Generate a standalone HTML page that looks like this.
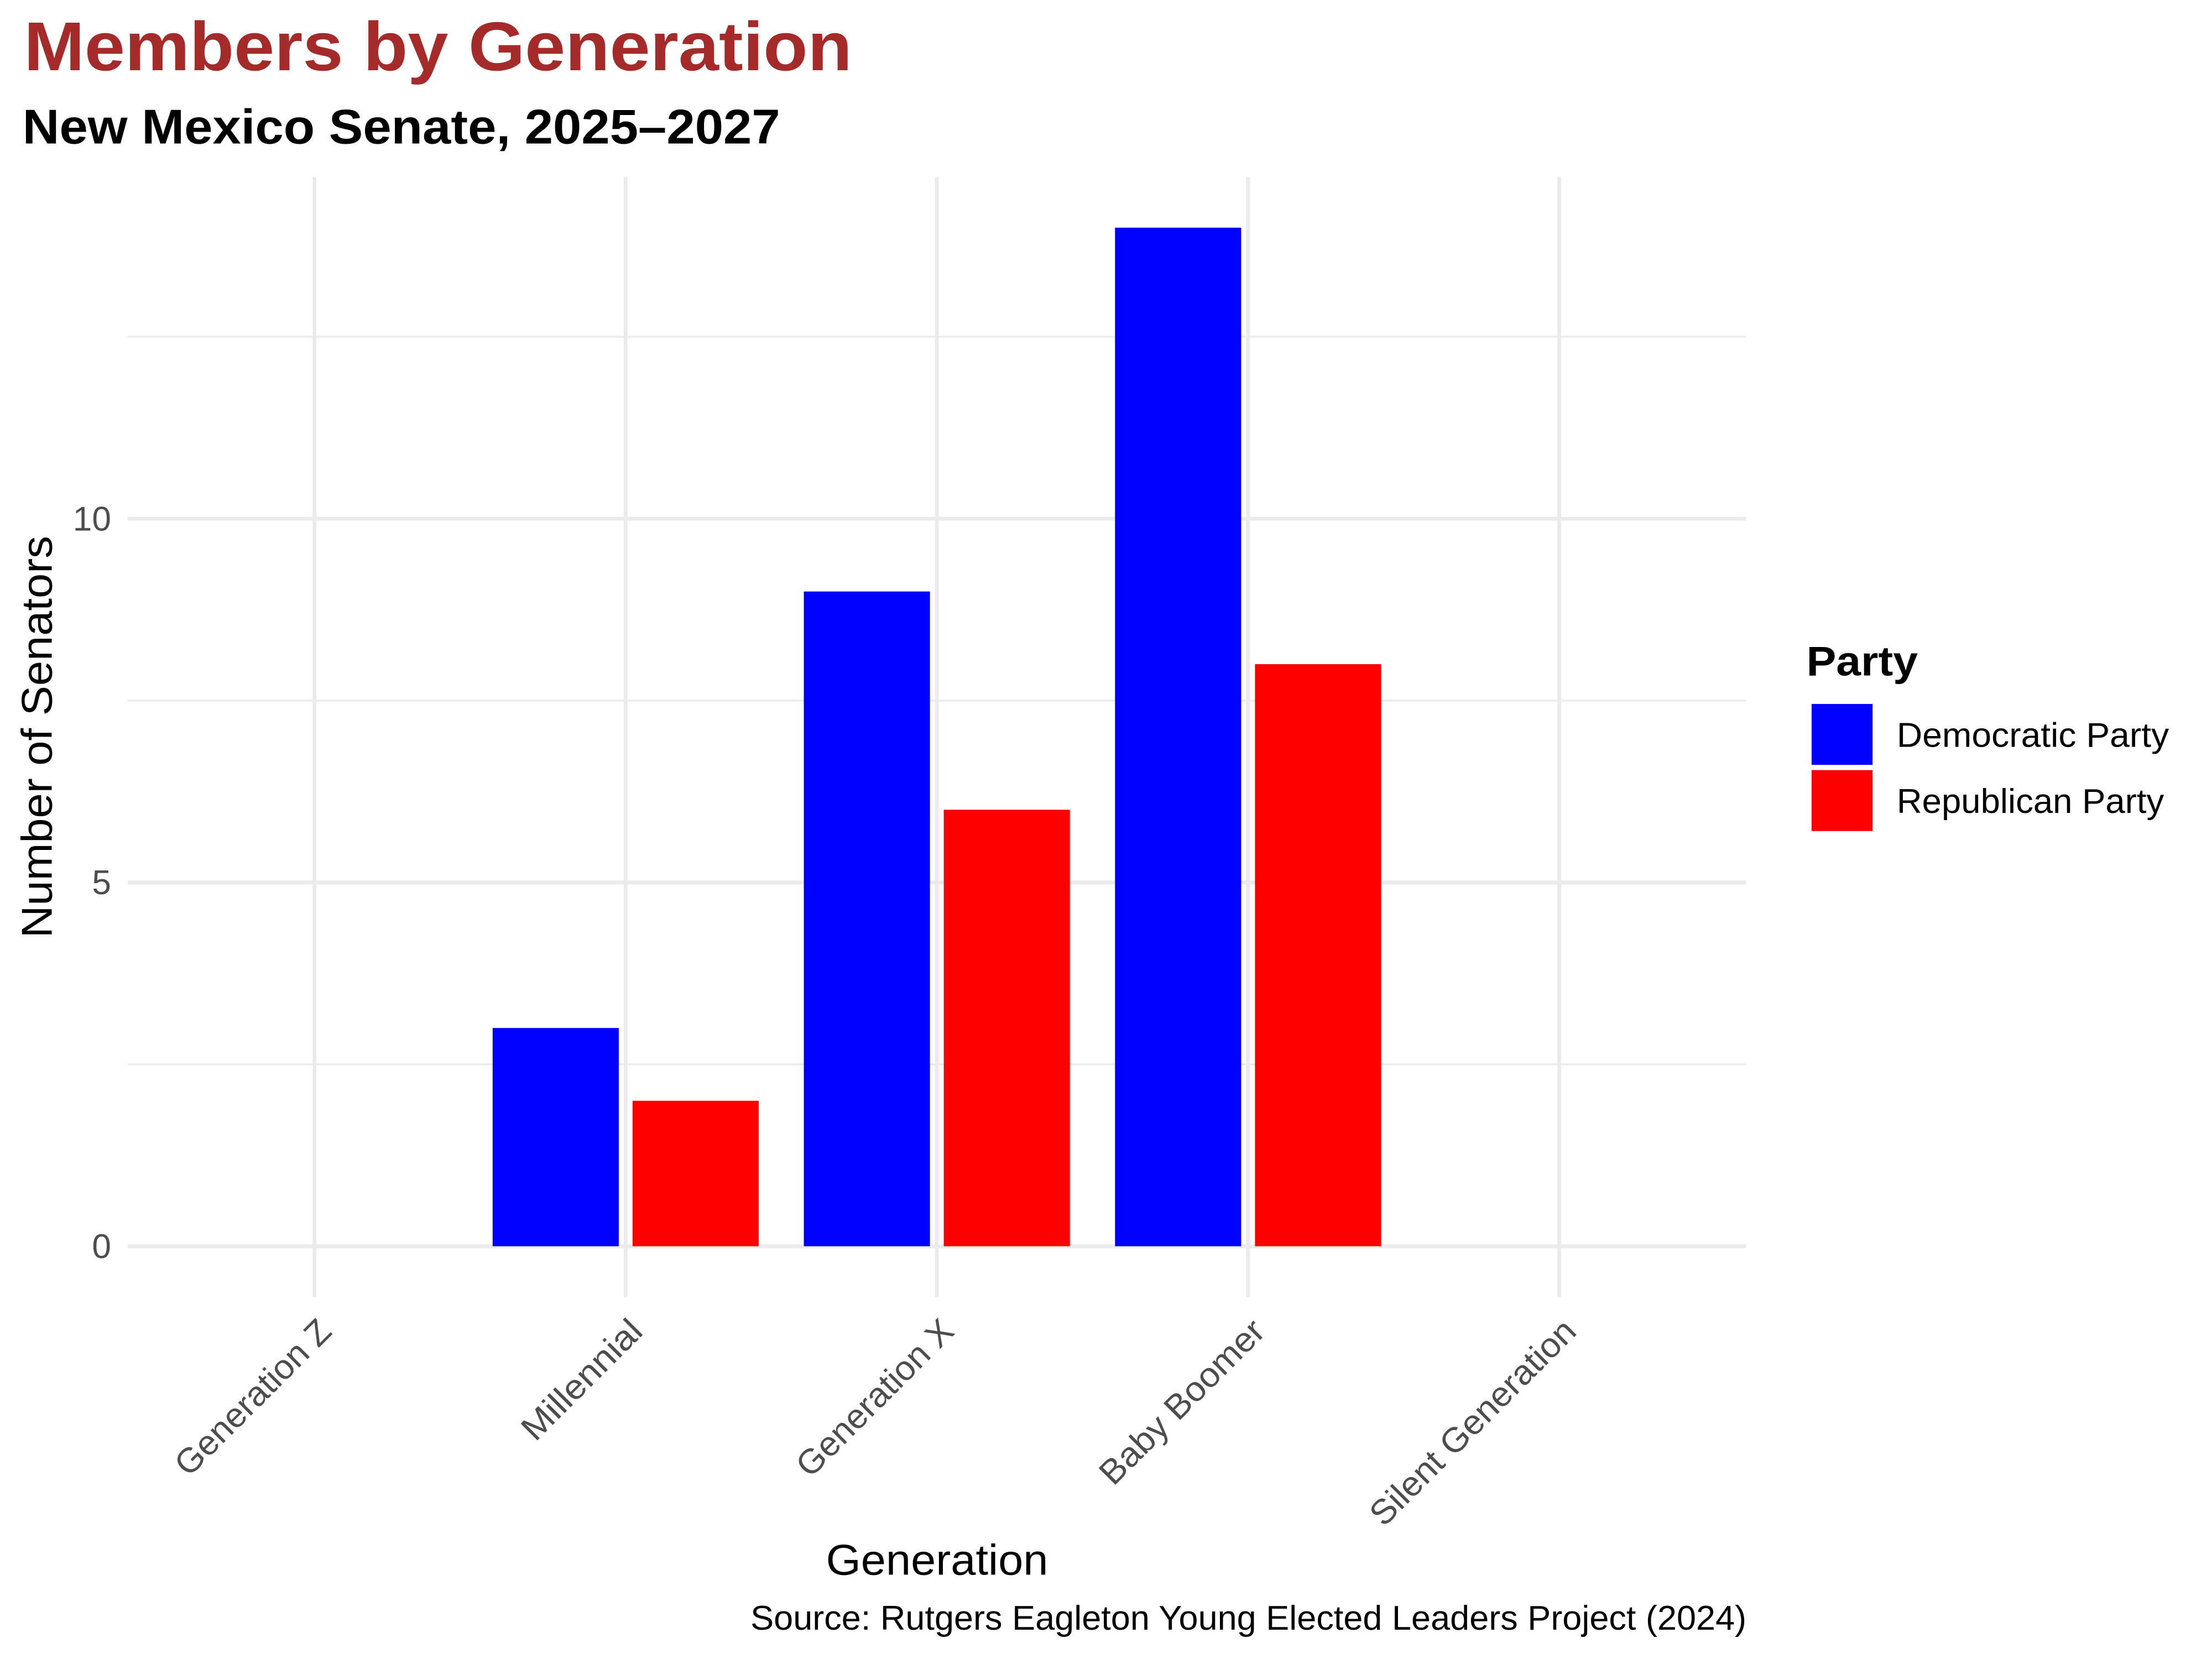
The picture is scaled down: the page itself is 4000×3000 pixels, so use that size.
<!DOCTYPE html>
<html>
<head>
<meta charset="utf-8">
<style>
  html, body { margin: 0; padding: 0; background: #ffffff; overflow: hidden; }
  svg { display: block; }
  text { font-family: "Liberation Sans", "DejaVu Sans", sans-serif; }
</style>
</head>
<body>
<svg xmlns="http://www.w3.org/2000/svg" width="4000" height="3000" viewBox="0 0 1568 1176">
  <rect x="0" y="0" width="1568" height="1176" fill="#ffffff"/>

  <!-- Titles -->
  <text x="17" y="49.8" font-size="49" font-weight="bold" fill="#A52A2A" textLength="587" lengthAdjust="spacingAndGlyphs">Members by Generation</text>
  <text x="16" y="101.7" font-size="34.7" font-weight="bold" fill="#000000" textLength="537" lengthAdjust="spacingAndGlyphs">New Mexico Senate, 2025–2027</text>

  <!-- Minor gridlines -->
  <g stroke="#EBEBEB" stroke-width="1.37" fill="none">
    <line x1="90.5" y1="754.5" x2="1237.7" y2="754.5"/>
    <line x1="90.5" y1="496.6" x2="1237.7" y2="496.6"/>
    <line x1="90.5" y1="238.8" x2="1237.7" y2="238.8"/>
  </g>
  <!-- Major gridlines -->
  <g stroke="#EBEBEB" stroke-width="2.74" fill="none">
    <line x1="90.5" y1="883.4" x2="1237.7" y2="883.4"/>
    <line x1="90.5" y1="625.55" x2="1237.7" y2="625.55"/>
    <line x1="90.5" y1="367.7" x2="1237.7" y2="367.7"/>
    <line x1="222.9" y1="125.3" x2="222.9" y2="919.5"/>
    <line x1="443.5" y1="125.3" x2="443.5" y2="919.5"/>
    <line x1="664.1" y1="125.3" x2="664.1" y2="919.5"/>
    <line x1="884.7" y1="125.3" x2="884.7" y2="919.5"/>
    <line x1="1105.3" y1="125.3" x2="1105.3" y2="919.5"/>
  </g>

  <!-- Bars -->
  <!-- Millennial -->
  <rect x="349.2" y="728.7" width="89.4" height="154.7" fill="#0000FF"/>
  <rect x="448.4" y="780.3" width="89.4" height="103.1" fill="#FF0000"/>
  <!-- Generation X -->
  <rect x="569.8" y="419.3" width="89.4" height="464.1" fill="#0000FF"/>
  <rect x="669.0" y="574.0" width="89.4" height="309.4" fill="#FF0000"/>
  <!-- Baby Boomer -->
  <rect x="790.4" y="161.4" width="89.4" height="722.0" fill="#0000FF"/>
  <rect x="889.6" y="470.8" width="89.4" height="412.6" fill="#FF0000"/>

  <!-- Y tick labels -->
  <g font-size="24.4" fill="#4D4D4D" text-anchor="end">
    <text x="78.8" y="891.8">0</text>
    <text x="78.8" y="633.9">5</text>
    <text x="78.8" y="376.1">10</text>
  </g>

  <!-- X tick labels (rotated 45) -->
  <g font-size="24.4" fill="#4D4D4D">
    <text transform="translate(236.3,945.1) rotate(-45)" x="-145" y="0" textLength="145" lengthAdjust="spacingAndGlyphs">Generation Z</text>
    <text transform="translate(456.9,945.1) rotate(-45)" x="-109.5" y="0" textLength="109.5" lengthAdjust="spacingAndGlyphs">Millennial</text>
    <text transform="translate(677.5,945.1) rotate(-45)" x="-146" y="0" textLength="146" lengthAdjust="spacingAndGlyphs">Generation X</text>
    <text transform="translate(898.1,945.1) rotate(-45)" x="-154" y="0" textLength="154" lengthAdjust="spacingAndGlyphs">Baby Boomer</text>
    <text transform="translate(1118.7,945.1) rotate(-45)" x="-195" y="0" textLength="195" lengthAdjust="spacingAndGlyphs">Silent Generation</text>
  </g>

  <!-- Axis titles -->
  <text x="585.5" y="1116.3" font-size="30.4" fill="#000000" textLength="157.5" lengthAdjust="spacingAndGlyphs">Generation</text>
  <text transform="translate(36.6,522.4) rotate(-90)" x="-142.5" y="0" font-size="30.4" fill="#000000" textLength="285" lengthAdjust="spacingAndGlyphs">Number of Senators</text>

  <!-- Caption -->
  <text x="532" y="1155.3" font-size="24.4" fill="#000000" textLength="706" lengthAdjust="spacingAndGlyphs">Source: Rutgers Eagleton Young Elected Leaders Project (2024)</text>

  <!-- Legend -->
  <text x="1280.5" y="478.9" font-size="29.6" font-weight="bold" fill="#000000" textLength="79" lengthAdjust="spacingAndGlyphs">Party</text>
  <rect x="1284.2" y="499" width="43.2" height="43.2" fill="#0000FF"/>
  <rect x="1284.2" y="545.9" width="43.2" height="43.2" fill="#FF0000"/>
  <text x="1344.5" y="529.5" font-size="24.4" fill="#000000" textLength="193" lengthAdjust="spacingAndGlyphs">Democratic Party</text>
  <text x="1344.5" y="576.3" font-size="24.4" fill="#000000" textLength="189.5" lengthAdjust="spacingAndGlyphs">Republican Party</text>
</svg>
</body>
</html>
